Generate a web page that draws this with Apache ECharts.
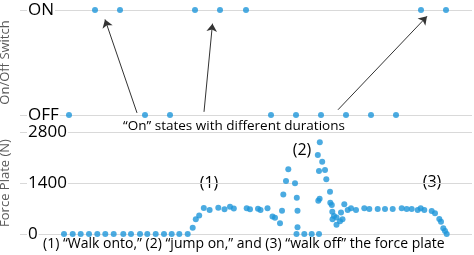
<!DOCTYPE html>
<html>
<head>
<meta charset="utf-8">
<script src="https://cdn.jsdelivr.net/npm/echarts@6/dist/echarts.min.js"></script>
<style>
  html, body { margin: 0; padding: 0; background: #fff; }
  #chart { width: 474px; height: 255px; }
</style>
</head>
<body>
<div id="chart"></div>
<script>
  // switch readings (time, 0 = OFF / 1 = ON)
  const switchTime = [4.9, 7.5, 10.0, 12.5, 15.0, 17.5, 20.0, 22.6, 25.1, 27.6, 30.1, 32.6, 35.1, 37.6, 40.1, 42.6]
  const switchState = [0, 1, 1, 0, 0, 1, 1, 1, 0, 0, 0, 0, 0, 0, 1, 1]
  const stateLabels = ["OFF", "ON"]

  // force plate readings (time, N)
  const forceTime = [
    4.4, 5.27, 6.07, 6.9, 7.73, 8.53, 9.37, 10.33, 11.1, 12.0, 12.73, 13.57, 14.4, 15.17, 15.93, 16.77,
    17.27, 17.58, 17.92, 18.38, 18.96, 19.83, 20.45, 21.0, 21.38, 22.67, 23.0, 23.8, 24.05, 24.75,
    25.25, 25.5, 26.0, 26.2, 26.33, 26.6, 26.83, 27.5, 27.68, 27.75, 27.75, 27.65, 28.43, 29.17, 29.9,
    29.98, 29.78, 30.22, 29.9, 30.5, 30.63, 31.0, 29.96, 29.83, 31.03, 31.18, 31.23, 31.4, 31.25, 31.65,
    31.65, 32.0, 32.25, 32.1, 32.43, 32.77, 33.1, 33.6, 34.43, 34.93, 35.77, 36.5, 37.27, 38.17, 38.67,
    39.17, 39.77, 40.07, 40.43, 41.17, 41.5, 41.93, 42.1, 42.33, 42.5, 42.67
  ]
  const forceValue = [
    0, 0, 0, 0, 0, 0, 0, 0, 0, 0, 0, 0, 0, 0, 0, 0,
    173, 403, 508, 714, 659, 722, 681, 749, 697, 705, 681, 692, 659, 708,
    480, 445, 294, 637, 1084, 1455, 1776, 1392, 996, 640, 184, 0, 0, 0, 0,
    2517, 2169, 1985, 1729, 1757, 1502, 1161, 969, 914, 859, 796, 612, 494, 404, 453,
    254, 348, 404, 590, 818, 659, 705, 659, 705, 686, 686, 686, 686, 705, 686,
    686, 659, 705, 659, 631, 568, 412, 338, 156, 82, 0
  ]
  const forceTicks = [0, 1400, 2800]

  // arrows from the note to the "On" runs: [from time, from level, to time, to level]
  const arrows = [
    [11.7, 0.02, 8.5, 0.91],
    [18.4, 0.03, 19.25, 0.87],
    [31.8, 0.05, 40.7, 0.94]
  ]

  const FONT = '"Open Sans", sans-serif'
  const BLUE = "#1e96da"
  const GRID = "#d9d9d9"

  const chart = echarts.init(document.getElementById("chart"))

  const axisTitle = { color: "#595959", fontSize: 13, fontFamily: FONT }
  const tickLabel = {
    inside: true,
    margin: 7,
    color: "#000",
    fontSize: 17,
    fontFamily: FONT,
    backgroundColor: "#fff",
    padding: [0, 1]
  }

  chart.setOption({
    animation: false,
    backgroundColor: "#fff",
    grid: [
      { left: 20, right: 2, top: 10, height: 105, outerBoundsMode: "none" },
      { left: 20, right: 2, top: 132, height: 102, outerBoundsMode: "none" }
    ],
    xAxis: [
      { gridIndex: 0, type: "value", min: 0, max: 45.2, show: false },
      { gridIndex: 1, type: "value", min: 0, max: 45.2, show: false }
    ],
    yAxis: [
      {
        gridIndex: 0, type: "value", min: 0, max: 1, interval: 1,
        name: "On/Off Switch", nameLocation: "middle", nameRotate: 90, nameGap: 8,
        nameTextStyle: axisTitle,
        axisLine: { show: false }, axisTick: { show: false },
        axisLabel: { ...tickLabel, formatter: v => stateLabels[v] },
        splitLine: { lineStyle: { color: GRID } }
      },
      {
        gridIndex: 1, type: "value", min: forceTicks[0], max: forceTicks[2], interval: forceTicks[1],
        name: "Force Plate (N)", nameLocation: "middle", nameRotate: 90, nameGap: 8,
        nameTextStyle: axisTitle,
        axisLine: { show: false }, axisTick: { show: false },
        axisLabel: { ...tickLabel, formatter: v => String(v) },
        splitLine: { lineStyle: { color: GRID } }
      }
    ],
    series: [
      {
        type: "scatter",
        xAxisIndex: 0, yAxisIndex: 0,
        symbolSize: 6,
        itemStyle: { color: BLUE },
        data: switchTime.map((t, i) => [t, switchState[i]]),
        markLine: {
          silent: true,
          symbol: ["none", "arrow"],
          symbolSize: 8,
          label: { show: false },
          lineStyle: { color: "#333", width: 1, type: "solid" },
          data: arrows.map(a => [{ coord: [a[0], a[1]] }, { coord: [a[2], a[3]] }])
        }
      },
      {
        type: "scatter",
        xAxisIndex: 1, yAxisIndex: 1,
        symbolSize: 6,
        itemStyle: { color: BLUE },
        data: forceTime.map((t, i) => [t, forceValue[i]])
      }
    ],
    graphic: [
      { type: "text", x: 123, y: 126, style: { text: "\u201cOn\u201d states with different durations", font: "13.5px " + FONT, fill: "#000", verticalAlign: "middle" } },
      { type: "text", x: 209, y: 183, style: { text: "(1)", font: "16px " + FONT, fill: "#000", align: "center", verticalAlign: "middle" } },
      { type: "text", x: 302, y: 150, style: { text: "(2)", font: "16px " + FONT, fill: "#000", align: "center", verticalAlign: "middle" } },
      { type: "text", x: 432, y: 182, style: { text: "(3)", font: "16px " + FONT, fill: "#000", align: "center", verticalAlign: "middle" } },
      { type: "text", x: 43, y: 244, style: { text: "(1) \u201cWalk onto,\u201d (2) \u201cjump on,\u201d and (3) \u201cwalk off\u201d the force plate", font: "14px " + FONT, fill: "#000", verticalAlign: "middle" } }
    ]
  })
</script>
</body>
</html>
